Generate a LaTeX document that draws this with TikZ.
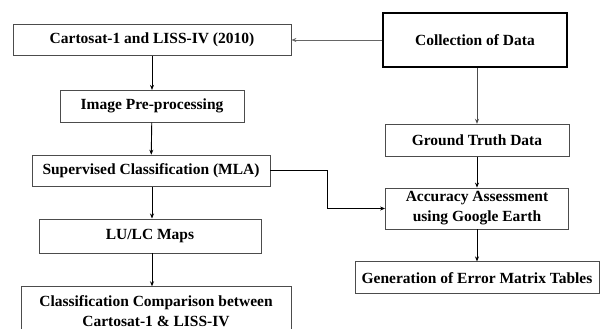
\documentclass[tikz,border=0pt]{standalone}
\usepackage{fontspec}
\setmainfont{Liberation Serif}
\usetikzlibrary{positioning,arrows.meta}

\begin{document}
\begin{tikzpicture}[
    x=1pt, y=-1pt,
    node distance=32pt,
    font=\fontsize{15.5}{20}\selectfont\bfseries,
    box/.style={draw=black!70, line width=0.8pt, align=center, inner sep=0pt, minimum height=32pt},
    arrow/.style={-{Stealth[length=5pt,width=4pt]}, line width=0.9pt}
  ]
    \useasboundingbox[fill=white] (0,0) rectangle (600,329);
    % left column
    \node[box, minimum width=278pt, minimum height=31pt] (sensor) at (152,40) {Cartosat-1 and LISS-IV (2010)};
    \node[box, minimum width=184pt, below=34pt of sensor] (preproc) {Image Pre-processing};
    \node[box, minimum width=238pt, minimum height=31pt, below=of preproc, xshift=-1pt] (superv) {Supervised Classification (MLA)};
    \node[box, minimum width=222pt, minimum height=34pt, below=of superv, xshift=-1pt] (maps) {LU/LC Maps};
    \node[box, minimum width=270pt, minimum height=48pt, below=33pt of maps, xshift=6pt] (compare) {Classification Comparison between\\Cartosat-1 \& LISS-IV};
    % right column
    \node[box, draw=black, line width=1.6pt, minimum width=184pt, minimum height=54pt] (data) at (475,40) {Collection of Data};
    \node[box, minimum width=184pt, below=56pt of data, xshift=2pt] (truth) {Ground Truth Data};
    \node[box, minimum width=183pt, minimum height=41pt, below=31pt of truth] (accur) {Accuracy Assessment\\using Google Earth};
    \node[box, minimum width=244pt, below=of accur] (errmat) {Generation of Error Matrix Tables};
    % connectors
    \draw[arrow, draw=black!60] (data) -- (sensor);
    \draw[arrow] (sensor) -- (preproc);
    \draw[arrow] (preproc) -- (superv);
    \draw[arrow] (superv.south -| preproc) -- (maps.north -| preproc);
    \draw[arrow] (maps.south -| preproc) -- (compare.north -| preproc);
    \draw[arrow, draw=black!70] (data.south -| truth) -- (truth);
    \draw[arrow] (truth) -- (accur);
    \draw[arrow] (accur) -- (errmat);
    \draw[arrow] (superv.east) -- ++(57,0) |- (accur.west);
\end{tikzpicture}
\end{document}
